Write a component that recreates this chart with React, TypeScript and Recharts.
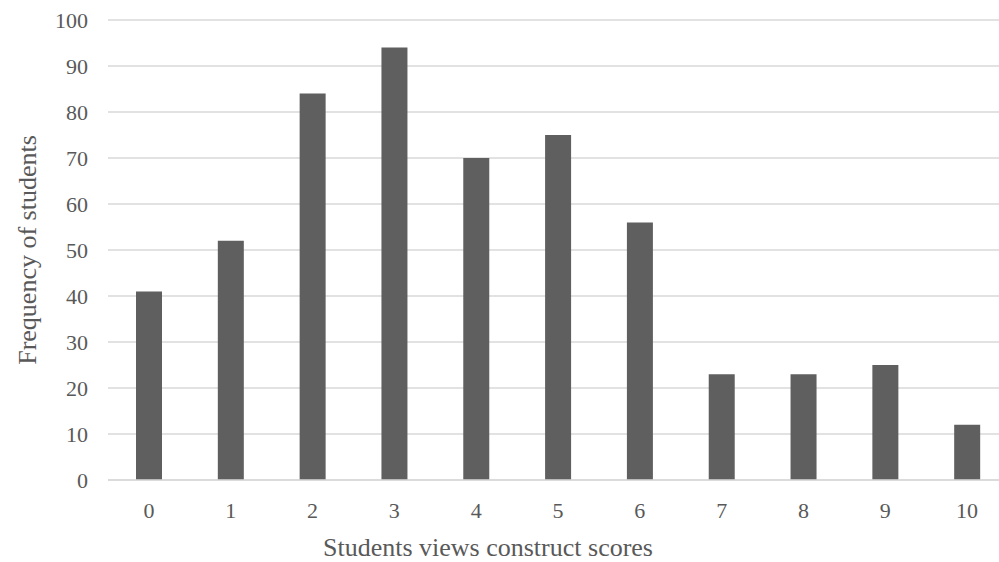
import { BarChart, Bar, XAxis, YAxis, CartesianGrid } from "recharts"

const scores = ["0", "1", "2", "3", "4", "5", "6", "7", "8", "9", "10"]
const frequencies = [41, 52, 84, 94, 70, 75, 56, 23, 23, 25, 12]
const yTicks = [0, 10, 20, 30, 40, 50, 60, 70, 80, 90, 100]

const data = scores.map((s, i) => ({ score: s, freq: frequencies[i] }))

const font = "Liberation Serif"
const textColor = "#595959"

export default function App() {
  return (
    <div
      style={{
        position: "absolute",
        left: 0,
        top: 0,
        width: 999,
        height: 562,
        overflow: "hidden",
        background: "#fff",
      }}
    >
      <BarChart
        width={1008}
        height={562}
        data={data}
        margin={{ top: 20, right: 0, bottom: 0, left: 0 }}
        barSize={26}
      >
        <CartesianGrid vertical={false} stroke="#d9d9d9" strokeWidth={1.5} />
        <XAxis
          dataKey="score"
          height={82}
          axisLine={{ stroke: "#d9d9d9", strokeWidth: 1.5 }}
          tickLine={false}
          tickSize={0}
          tickMargin={22}
          tick={{ fontSize: 22, fill: textColor, fontFamily: font }}
          label={{
            value: "Students views construct scores",
            position: "insideBottom",
            offset: 6,
            dx: -70,
            style: { fontSize: 26, fill: textColor, fontFamily: font },
          }}
        />
        <YAxis
          width={108}
          domain={[0, 100]}
          ticks={yTicks}
          interval={0}
          axisLine={false}
          tickLine={false}
          tickSize={0}
          tickMargin={20}
          tick={{ fontSize: 22, fill: textColor, fontFamily: font }}
          label={{
            value: "Frequency of students",
            angle: -90,
            position: "insideLeft",
            offset: 27,
            style: { fontSize: 26, fill: textColor, fontFamily: font, textAnchor: "middle" },
          }}
        />
        <Bar dataKey="freq" fill="#5f5f5f" isAnimationActive={false} />
      </BarChart>
    </div>
  )
}
